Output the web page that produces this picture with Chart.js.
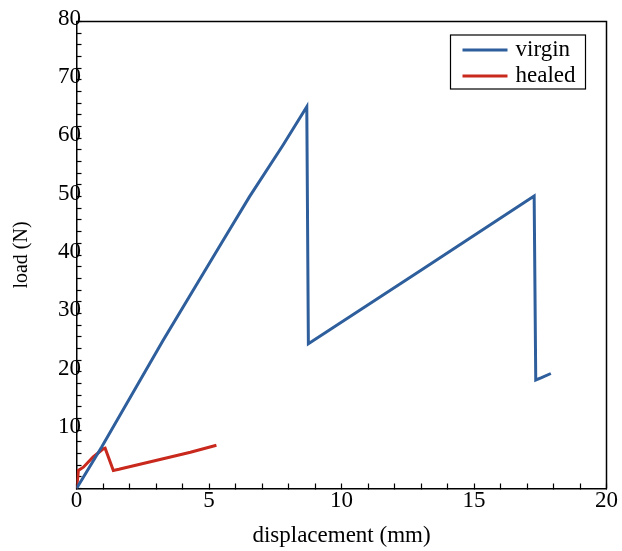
<!DOCTYPE html>
<html>
<head>
<meta charset="utf-8">
<script src="https://cdn.jsdelivr.net/npm/chart.js@4.4.1/dist/chart.umd.min.js"></script>
<style>
  html, body { margin: 0; padding: 0; background: #fff; }
  #wrap { width: 622px; height: 551px; }
</style>
</head>
<body>
<div id="wrap"><canvas id="loadChart" width="622" height="551"></canvas></div>
<script>
// Load-displacement curves
const virginX = [0, 0.95, 3.27, 5.53, 6.53, 7.79, 8.69, 8.75, 13.0, 17.27, 17.33, 17.55, 17.9];
const virginY = [0, 7.1, 25.4, 42.5, 50.0, 58.8, 65.4, 24.8, 37.4, 50.1, 18.6, 19.0, 19.7];
const healedX = [0, 0.05, 0.07, 0.26, 0.63, 1.01, 1.08, 1.39, 1.6, 3.27, 4.3, 5.28];
const healedY = [0, 2.0, 3.1, 3.65, 5.4, 6.8, 6.9, 3.1, 3.3, 5.1, 6.2, 7.4];

const xMin = 0, xMax = 20, xStep = 1, xMajor = 5;
const yMin = 0, yMax = 80, yStep = 2, yMajor = 10;

const toPoints = (xs, ys) => xs.map((x, i) => ({x: x, y: ys[i]}));

const serif = 'Liberation Serif';

// box around the plot + legend with a frame in the top right corner
const framePlugin = {
  id: 'frame',
  afterDraw(chart) {
    const {ctx, chartArea: a} = chart;
    ctx.save();
    ctx.strokeStyle = '#000';
    ctx.lineWidth = 1.5;
    ctx.beginPath();
    ctx.moveTo(a.left, a.top);
    ctx.lineTo(a.right, a.top);
    ctx.lineTo(a.right, a.bottom);
    ctx.stroke();

    // legend
    const boxR = a.right - 21, boxT = a.top + 13.5;
    const boxW = 135, boxH = 54;
    const boxL = boxR - boxW;
    ctx.lineWidth = 1.2;
    ctx.strokeRect(boxL, boxT, boxW, boxH);
    ctx.font = '23px "' + serif + '"';
    ctx.textBaseline = 'middle';
    ctx.fillStyle = '#000';
    chart.data.datasets.forEach((ds, i) => {
      const y = boxT + 15 + i * 26;
      ctx.strokeStyle = ds.borderColor;
      ctx.lineWidth = 3;
      ctx.beginPath();
      ctx.moveTo(boxL + 12, y);
      ctx.lineTo(boxL + 57, y);
      ctx.stroke();
      ctx.fillText(ds.label, boxL + 65, y);
    });
    ctx.restore();
  }
};

const ctx = document.getElementById('loadChart').getContext('2d');
new Chart(ctx, {
  type: 'scatter',
  data: {
    datasets: [
      {
        label: 'virgin',
        data: toPoints(virginX, virginY),
        showLine: true,
        borderColor: '#2e5f9c',
        borderWidth: 3,
        pointRadius: 0,
        tension: 0
      },
      {
        label: 'healed',
        data: toPoints(healedX, healedY),
        showLine: true,
        borderColor: '#c9281d',
        borderWidth: 3,
        pointRadius: 0,
        tension: 0
      }
    ]
  },
  options: {
    responsive: false,
    animation: false,
    layout: { padding: { left: 0, top: 21.5, right: 14, bottom: 0 } },
    plugins: {
      legend: { display: false },
      tooltip: { enabled: false }
    },
    scales: {
      x: {
        type: 'linear',
        min: xMin,
        max: xMax,
        afterFit(s) { s.height = 62.5; },
        border: { color: '#000', width: 1.5 },
        grid: { drawOnChartArea: false, tickLength: -5, tickColor: '#000', tickWidth: 1.2 },
        ticks: {
          stepSize: xStep,
          autoSkip: false,
          maxRotation: 0,
          padding: 4,
          color: '#000',
          font: { family: serif, size: 23 },
          callback: v => (v % xMajor === 0 ? String(v) : '')
        },
        title: {
          display: true,
          text: 'displacement (mm)',
          color: '#000',
          font: { family: serif, size: 23 },
          padding: { top: 0, bottom: 1 }
        }
      },
      y: {
        type: 'linear',
        min: yMin,
        max: yMax,
        afterFit(s) { s.width = 76.5; },
        border: { color: '#000', width: 1.5 },
        grid: { drawOnChartArea: false, tickLength: -5, tickColor: '#000', tickWidth: 1.2 },
        ticks: {
          stepSize: yStep,
          autoSkip: false,
          // mirrored so the labels may sit over the axis line like the original
          mirror: true,
          padding: -18.5,
          labelOffset: -3,
          color: '#000',
          font: { family: serif, size: 23 },
          callback: v => (v % yMajor === 0 && v > 0 ? String(v) : '')
        },
        title: {
          display: true,
          text: 'load (N)',
          color: '#000',
          font: { family: serif, size: 20 },
          padding: { top: 10, bottom: 0 }
        }
      }
    }
  },
  plugins: [framePlugin]
});
</script>
</body>
</html>
